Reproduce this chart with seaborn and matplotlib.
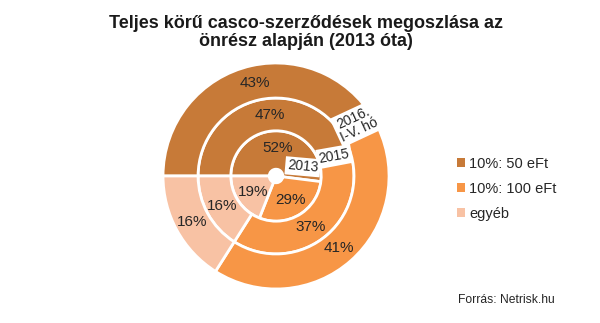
import numpy as np
import matplotlib
matplotlib.use("Agg")
import matplotlib.pyplot as plt
from matplotlib.patches import Patch
import seaborn as sns

sns.set_theme(style="white")
plt.rcParams['font.family'] = ['Liberation Sans', 'DejaVu Sans']

categories = ["10%: 50 eFt", "10%: 100 eFt", "egyéb"]
years = ["2013", "2015", "2016.\nI-V. hó"]
v2013 = [52, 29, 19]
v2015 = [47, 37, 16]
v2016 = [43, 41, 16]
colors = ["#C77A38", "#F79646", "#F8C2A4"]

rings = [v2013, v2015, v2016]
# ring radii (inner edge -> outer edge)
edges = [0.06, 0.40, 0.69, 1.0]
year_angles = [19, 19, 33]
year_rot = [-5, 10, 25]

fig = plt.figure(figsize=(6.0, 3.23), dpi=100)
ax = fig.add_axes([0.2717, 0.1053, 0.3767, 0.6997])

for i, vals in enumerate(rings):
    r_out = edges[i + 1]
    w = r_out - edges[i]
    wedges, _ = ax.pie(vals, radius=r_out, colors=colors, startangle=180,
                       counterclock=False,
                       wedgeprops=dict(width=w, edgecolor="white", linewidth=2.0))
    rmid = edges[i] + w / 2 + (0.02 if i == 0 else 0.0)
    for wdg, v in zip(wedges, vals):
        ang = np.deg2rad((wdg.theta1 + wdg.theta2) / 2)
        ax.text(rmid * np.cos(ang), rmid * np.sin(ang), f"{v}%",
                ha="center", va="center", fontsize=11, color="#262626")
    ya = np.deg2rad(year_angles[i])
    yr = edges[i] + w / 2 + (0.02 if i == 0 else 0.0)
    ax.text(yr * np.cos(ya), yr * np.sin(ya), years[i], ha="center", va="center",
            fontsize=10, rotation=year_rot[i], color="#262626", linespacing=0.95,
            bbox=dict(boxstyle="square,pad=0.15", fc="white", ec="none"))

ax.set_xlim(-1, 1)
ax.set_ylim(-1, 1)
ax.set_aspect("equal")
ax.axis("off")

fig.text(0.51, 0.9, "Teljes körű casco-szerződések megoszlása az\nönrész alapján (2013 óta)",
         ha="center", va="center", fontsize=13, fontweight="bold", color="#1a1a1a",
         linespacing=1.1)

handles = [Patch(facecolor=c, edgecolor="none") for c in colors]
fig.legend(handles, categories, loc="upper left", bbox_to_anchor=(0.752, 0.532),
           frameon=False, fontsize=10.5, handlelength=0.55, handleheight=0.55,
           handletextpad=0.3, labelspacing=0.75, borderaxespad=0)

fig.text(0.763, 0.072, "Forrás: Netrisk.hu", ha="left", va="center",
         fontsize=8.7, color="#262626")

fig.savefig("out.png", dpi=100, facecolor="white")
